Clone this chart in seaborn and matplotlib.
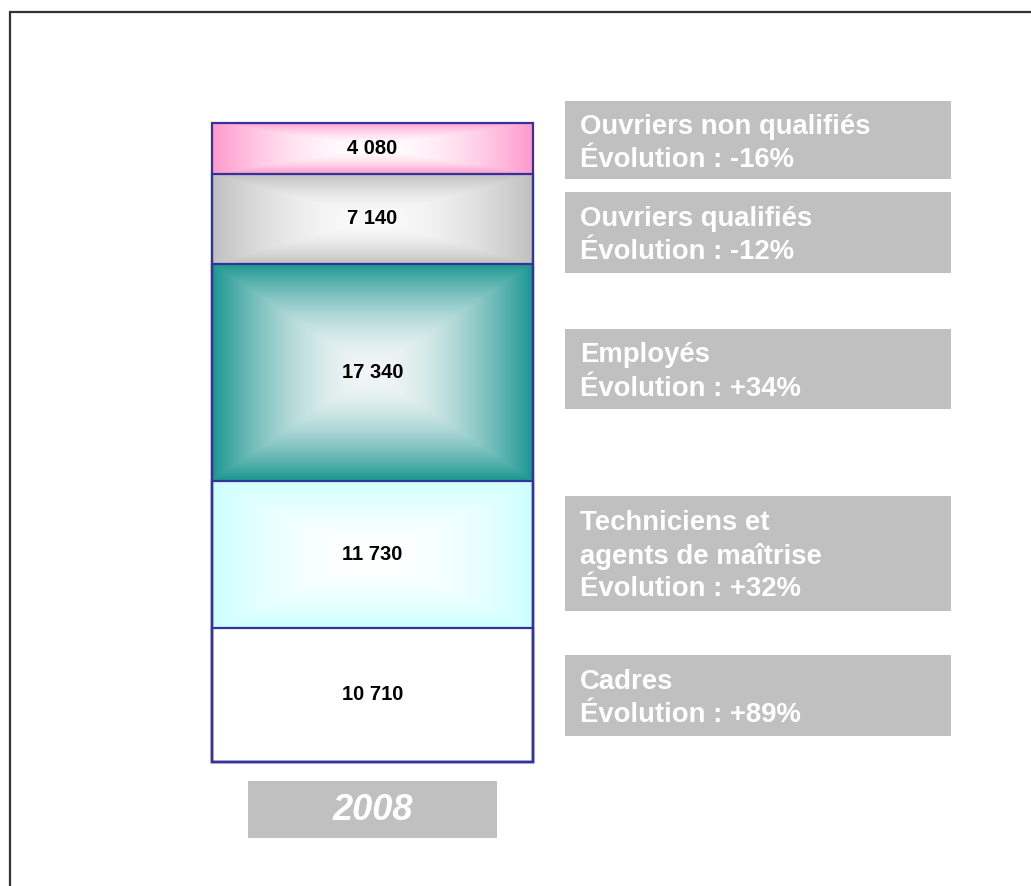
import numpy as np
import pandas as pd
import matplotlib
matplotlib.use("Agg")
import matplotlib.pyplot as plt
from matplotlib.colors import to_rgb
from matplotlib.patches import Rectangle
import seaborn as sns

# data, bottom to top of the stacked bar
year = "2008"
categories = ["Cadres", "Techniciens et\nagents de maîtrise", "Employés",
              "Ouvriers qualifiés", "Ouvriers non qualifiés"]
effectifs = [10710, 11730, 17340, 7140, 4080]
evolutions = ["+89%", "+32%", "+34%", "-12%", "-16%"]

# styles
edge_colors = ["#ffffff", "#ccffff", "#1a9690", "#c0c0c0", "#ff99cc"]
center_colors = ["#ffffff", "#ffffff", "#f2f6f6", "#fbfbfb", "#ffffff"]
outline = "#333399"
box_grey = "#c0c0c0"

# label boxes in pixels (top, bottom), same order as categories
label_boxes = [(655, 736), (496, 611), (329, 409), (192, 273), (101, 179)]

W, H = 1031, 886
sns.set_theme(style="white")
plt.rcParams["font.family"] = ["Liberation Sans", "DejaVu Sans"]

fig = plt.figure(figsize=(W / 100, H / 100), dpi=100)


def frac(x0, y0, x1, y1):
    return [x0 / W, 1 - y1 / H, (x1 - x0) / W, (y1 - y0) / H]


def rect_gradient(c_center, c_edge, nx=300, ny=200):
    u = np.linspace(-1, 1, nx)
    v = np.linspace(-1, 1, ny)
    uu, vv = np.meshgrid(u, v)
    t = np.maximum(np.abs(uu), np.abs(vv))
    f = np.clip(t, 0, 1) ** 1.8
    c0 = np.array(to_rgb(c_center))
    c1 = np.array(to_rgb(c_edge))
    return c0 * (1 - f[..., None]) + c1 * f[..., None]


# background layer in pixel coordinates
bg = fig.add_axes([0, 0, 1, 1])
bg.set_xlim(0, W)
bg.set_ylim(H, 0)
bg.axis("off")
bg.plot([9.5, 9.5, W], [H, 11.5, 11.5], color="#333333", lw=1.6,
        solid_joinstyle="miter")

# stacked bar
ax = fig.add_axes(frac(212, 123, 533, 762))
df = pd.DataFrame({"year": year, "categorie": categories, "effectif": effectifs})
df["cumul"] = df["effectif"].cumsum()
df["bas"] = df["cumul"] - df["effectif"]

for i in reversed(range(len(df))):
    sns.barplot(data=df.iloc[[i]], x="year", y="cumul", fill=False,
                color=outline, width=0.8, errorbar=None, ax=ax)

for p in ax.patches:
    p.set_facecolor("none")
    p.set_edgecolor(outline)
    p.set_linewidth(1.6)
    p.set_clip_on(False)
    p.set_zorder(3)

x0 = ax.patches[0].get_x()
x1 = x0 + ax.patches[0].get_width()
for i, row in df.iterrows():
    img = rect_gradient(center_colors[i], edge_colors[i])
    ax.imshow(img, extent=(x0, x1, row["bas"], row["cumul"]), origin="lower",
              aspect="auto", interpolation="bilinear", zorder=1)
    ax.text(0, row["bas"] + row["effectif"] / 2,
            f"{row['effectif']:,}".replace(",", " "),
            ha="center", va="center", fontsize=14.5, fontweight="bold",
            color="black", zorder=4)

ax.set_xlim(x0, x1)
ax.set_ylim(0, df["cumul"].iloc[-1])
ax.axis("off")

# grey label boxes
for i in range(len(categories)):
    top, bottom = label_boxes[i]
    bg.add_patch(Rectangle((565, top), 386, bottom - top, facecolor=box_grey,
                           edgecolor="none"))
    lines = categories[i].split("\n") + [f"Évolution : {evolutions[i]}"]
    n = len(lines)
    first = (top + bottom) / 2 + 10 - (n - 1) * 33 / 2
    for j, line in enumerate(lines):
        bg.text(580, first + j * 33, line, ha="left", va="baseline",
                color="white", fontsize=19.8, fontweight="bold")

# year box
bg.add_patch(Rectangle((248, 781), 249, 57, facecolor=box_grey, edgecolor="none"))
bg.text(372.5, 810, year, ha="center", va="center", color="white",
        fontsize=26, fontweight="bold", fontstyle="italic")

fig.savefig("out.png", dpi=100)
